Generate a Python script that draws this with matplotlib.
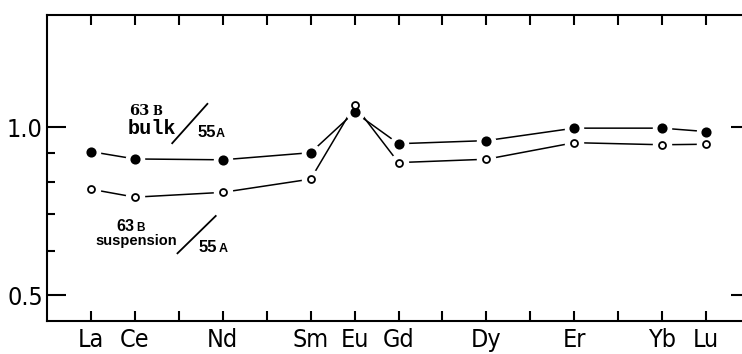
import matplotlib.pyplot as plt
from matplotlib.ticker import FixedLocator, NullFormatter

# --- data (ratio 63B / 55A, chondrite-normalised REE) ---
elements = ['La', 'Ce', 'Pr', 'Nd', 'Pm', 'Sm', 'Eu', 'Gd', 'Tb', 'Dy', 'Ho', 'Er', 'Tm', 'Yb', 'Lu']
atomic_no = list(range(57, 72))
shown = ['La', 'Ce', 'Nd', 'Sm', 'Eu', 'Gd', 'Dy', 'Er', 'Yb', 'Lu']

meas_el = ['La', 'Ce', 'Nd', 'Sm', 'Eu', 'Gd', 'Dy', 'Er', 'Yb', 'Lu']
bulk = [0.905, 0.878, 0.875, 0.901, 1.065, 0.935, 0.947, 0.997, 0.997, 0.983]
susp = [0.775, 0.750, 0.765, 0.808, 1.096, 0.865, 0.877, 0.939, 0.931, 0.933]

y_major = [0.5, 1.0]
y_minor = [0.6, 0.7, 0.8, 0.9]

x_meas = [atomic_no[elements.index(e)] for e in meas_el]

fig = plt.figure(figsize=(7.42, 3.54), dpi=100)
ax = fig.add_axes([47 / 742, 33 / 354, 703 / 742, 306 / 354])

ax.set_yscale('log')
ax.set_xlim(56, 72)
ax.set_ylim(0.45, 1.59)

# lines with gaps round the markers: line, white halo, marker
for vals in [bulk, susp]:
    ax.plot(x_meas, vals, color='black', lw=1.1, zorder=2)
    ax.plot(x_meas, vals, ls='none', marker='o', ms=13, mfc='white', mec='white', zorder=3)
for vals, face, ms in [(bulk, 'black', 6), (susp, 'white', 5)]:
    ax.plot(x_meas, vals, ls='none', marker='o', ms=ms, mfc=face, mec='black', mew=1.3, zorder=4)

# axes / ticks
for s in ax.spines.values():
    s.set_linewidth(1.5)

ax.xaxis.set_major_locator(FixedLocator(atomic_no))
ax.set_xticklabels([e if e in shown else '' for e in elements])
ax.tick_params(axis='x', which='major', direction='in', top=True, bottom=True,
               length=7, width=1.5, pad=5)

ax.yaxis.set_major_locator(FixedLocator(y_major))
ax.yaxis.set_minor_locator(FixedLocator(y_minor))
ax.yaxis.set_minor_formatter(NullFormatter())
ax.set_yticklabels(['%.1f' % v for v in y_major])
ax.tick_params(axis='y', which='major', direction='in', left=True, right=True,
               length=14, width=1.5, pad=3)
ax.tick_params(axis='y', which='minor', direction='in', left=True, right=True,
               length=5.5, width=1.5)

for t in ax.get_xticklabels() + ax.get_yticklabels():
    t.set_family('DejaVu Sans')
    t.set_stretch('condensed')
    t.set_fontsize(18)

# --- annotations ---
ax.text(57.86, 1.052, '63', family='DejaVu Serif', weight='bold', fontsize=10.5)
ax.text(58.41, 1.052, 'B', family='DejaVu Serif', weight='bold', fontsize=8.5)
ax.text(57.84, 0.973, 'bulk', family=['Liberation Mono', 'DejaVu Sans Mono'], weight='bold', fontsize=14.5)
ax.plot([58.85, 59.65], [0.937, 1.102], color='black', lw=1.3)
ax.text(59.43, 0.962, '55', family='Liberation Sans', weight='bold', fontsize=12)
ax.text(59.84, 0.962, 'A', family='Liberation Sans', weight='bold', fontsize=9)

ax.text(57.57, 0.653, '63', family='Liberation Sans', weight='bold', fontsize=11.5)
ax.text(58.02, 0.653, 'B', family='Liberation Sans', weight='bold', fontsize=8.5)
ax.text(57.11, 0.616, 'suspension', family='Liberation Sans', weight='bold', fontsize=10.5)
ax.plot([58.97, 59.84], [0.595, 0.694], color='black', lw=1.3)
ax.text(59.45, 0.598, '55', family='Liberation Sans', weight='bold', fontsize=12)
ax.text(59.9, 0.598, 'A', family='Liberation Sans', weight='bold', fontsize=9)

fig.savefig('out.png', dpi=100)
